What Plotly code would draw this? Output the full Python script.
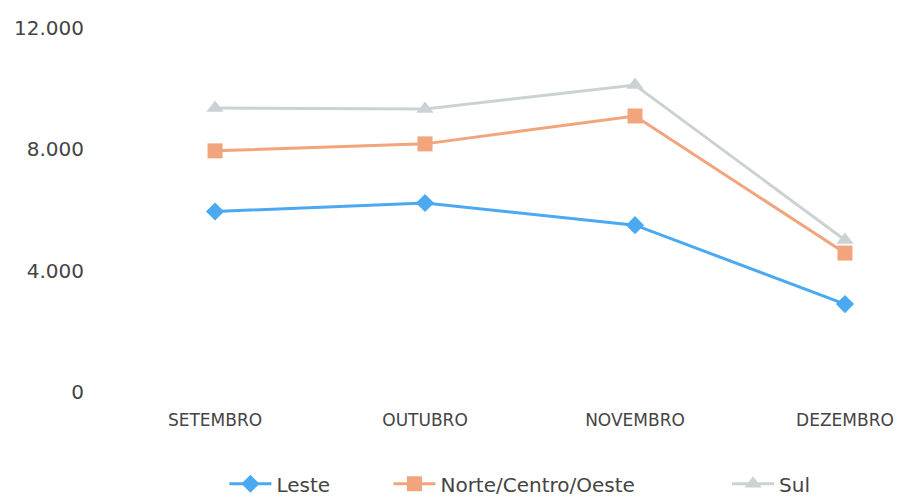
import plotly.graph_objects as go

meses = ["SETEMBRO", "OUTUBRO", "NOVEMBRO", "DEZEMBRO"]
leste = [5950, 6230, 5500, 2900]
norte_centro_oeste = [7950, 8180, 9100, 4580]
sul = [9360, 9330, 10120, 5010]
y_ticks = [0, 4000, 8000, 12000]
y_tick_labels = ["0", "4.000", "8.000", "12.000"]

fig = go.Figure()
fig.add_trace(go.Scatter(x=meses, y=leste, name="Leste", mode="lines+markers", legend="legend",
                         line=dict(color="#4BA9F2", width=3),
                         marker=dict(symbol="diamond", size=14, color="#4BA9F2")))
fig.add_trace(go.Scatter(x=meses, y=norte_centro_oeste, name="Norte/Centro/Oeste", mode="lines+markers",
                         legend="legend2",
                         line=dict(color="#F2A47C", width=3),
                         marker=dict(symbol="square", size=15, color="#F2A47C")))
fig.add_trace(go.Scatter(x=meses, y=sul, name="Sul", mode="lines+markers", legend="legend3",
                         line=dict(color="#CBD2D4", width=3),
                         marker=dict(symbol="triangle-up", size=15, color="#CBD2D4")))

leg = dict(orientation="h", xanchor="left", y=-0.252, yanchor="middle",
           font=dict(size=20, color="#444444"), itemwidth=42)

fig.update_layout(
    width=903, height=494,
    margin=dict(l=80, r=11, t=20, b=110, autoexpand=False),
    paper_bgcolor="white", plot_bgcolor="white",
    font=dict(family="DejaVu Sans", color="#404040", size=16),
    showlegend=True,
    legend=dict(leg, x=0.168),
    legend2=dict(leg, x=0.370),
    legend3=dict(leg, x=0.787),
    xaxis=dict(type="category", range=[-0.605, 3.262], showgrid=False, zeroline=False,
               showline=False, ticks="", automargin=False, ticklabelstandoff=16,
               tickfont=dict(size=17, color="#444444")),
    yaxis=dict(range=[0, 12000], tickvals=y_ticks, ticktext=y_tick_labels,
               showgrid=False, zeroline=False, showline=False, ticks="", automargin=False,
               tickfont=dict(size=20, color="#444444"), ticklabelstandoff=3),
)

fig.write_html("out.html")
